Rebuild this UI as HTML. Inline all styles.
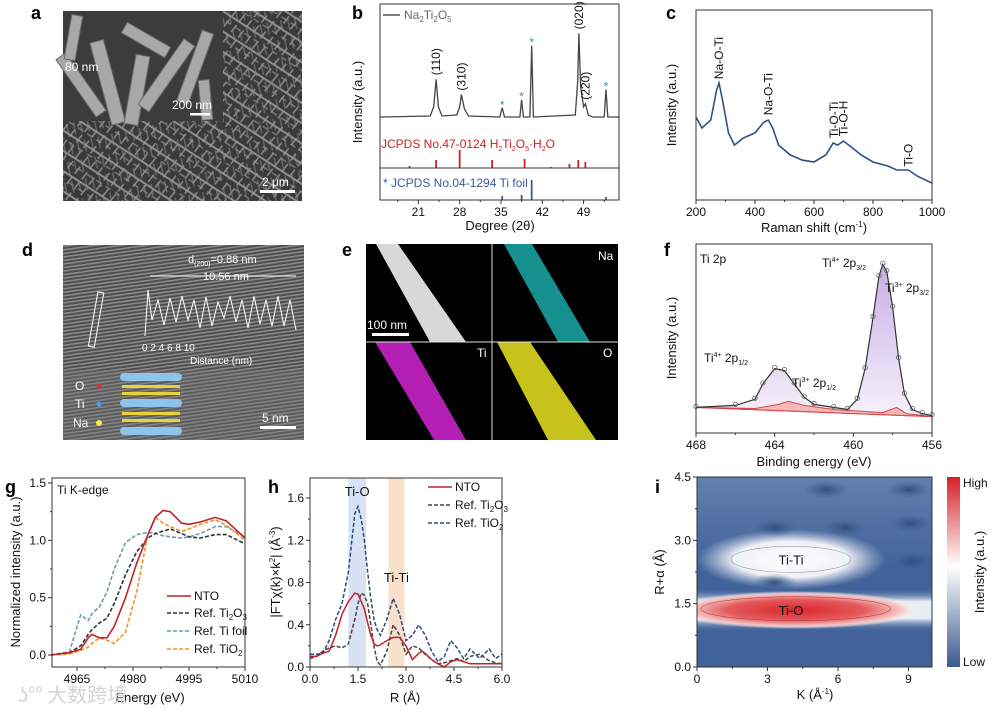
<!DOCTYPE html>
<html><head><meta charset="utf-8">
<style>
html,body{margin:0;padding:0;background:#fff;}
svg{display:block;font-family:"Liberation Sans",Arial,"Noto Sans CJK SC",sans-serif;}
.t{font-size:12px;}
.lab{font-size:13px;}
.pl{font-size:18px;font-weight:bold;fill:#000;}
</style></head>
<body>
<svg id="fig" xmlns="http://www.w3.org/2000/svg" width="1005" height="713" viewBox="0 0 1005 713">
<defs>
 <pattern id="sem1" width="11" height="17" patternUnits="userSpaceOnUse" patternTransform="rotate(33)">
  <rect width="11" height="17" fill="#3a3a3a"/>
  <rect x="0" y="6" width="11" height="2" fill="#8d8d8d"/>
  <rect x="3" y="13" width="6" height="1.5" fill="#777"/>
 </pattern>
 <pattern id="sem2" width="13" height="9" patternUnits="userSpaceOnUse" patternTransform="rotate(-52)">
  <rect x="0" y="3" width="9" height="1.6" fill="#9a9a9a"/>
 </pattern>
 <pattern id="sem3" width="19" height="7" patternUnits="userSpaceOnUse" patternTransform="rotate(78)">
  <rect x="2" y="2" width="12" height="1.4" fill="#888"/>
 </pattern>
 <pattern id="hrtem" width="3" height="3.5" patternUnits="userSpaceOnUse" patternTransform="rotate(-8)">
  <rect width="3" height="3.5" fill="#4c4c4c"/>
  <rect y="0" width="3" height="1.6" fill="#8a8a8a"/>
 </pattern>
 <linearGradient id="cbar" x1="0" y1="0" x2="0" y2="1">
  <stop offset="0" stop-color="#d42027"/><stop offset="0.47" stop-color="#ffffff"/><stop offset="1" stop-color="#3b5a8e"/>
 </linearGradient>
 <linearGradient id="purp" x1="0" y1="0" x2="0" y2="1">
  <stop offset="0" stop-color="#b89be0"/><stop offset="1" stop-color="#f3eefb"/>
 </linearGradient>
 <radialGradient id="redg"><stop offset="0" stop-color="#d8262c"/><stop offset="0.55" stop-color="#e45a5c"/><stop offset="0.85" stop-color="#f5c9c9"/><stop offset="1" stop-color="#ffffff" stop-opacity="0"/></radialGradient>
 <radialGradient id="whg"><stop offset="0" stop-color="#ffffff"/><stop offset="0.6" stop-color="#eef1f6"/><stop offset="1" stop-color="#c8d1e0" stop-opacity="0"/></radialGradient>
 <radialGradient id="dkg"><stop offset="0" stop-color="#2f4f82"/><stop offset="1" stop-color="#3f6093" stop-opacity="0"/></radialGradient>
 <linearGradient id="band" x1="0" y1="0" x2="0" y2="1">
  <stop offset="0" stop-color="#4a6a9c" stop-opacity="0"/><stop offset="0.3" stop-color="#e8edf5"/><stop offset="0.7" stop-color="#e8edf5"/><stop offset="1" stop-color="#4a6a9c" stop-opacity="0"/>
 </linearGradient>
 <linearGradient id="topfade" x1="0" y1="0" x2="0" y2="1">
  <stop offset="0" stop-color="#6f8cb8" stop-opacity="0.7"/><stop offset="1" stop-color="#6f8cb8" stop-opacity="0"/>
 </linearGradient>
 <clipPath id="clipI"><rect x="697" y="477" width="235" height="190"/></clipPath>
</defs>

<text class="pl" x="31" y="19">a</text>
<text class="pl" x="352" y="19">b</text>
<text class="pl" x="666" y="19">c</text>
<text class="pl" x="22" y="256">d</text>
<text class="pl" x="342" y="256">e</text>
<text class="pl" x="664" y="256">f</text>
<text class="pl" x="5" y="493">g</text>
<text class="pl" x="268" y="493">h</text>
<text class="pl" x="655" y="493">i</text>

<!-- panel a SEM -->
<g>
 <rect x="63" y="11" width="239" height="190" fill="url(#sem1)"/>
 <rect x="63" y="11" width="239" height="190" fill="url(#sem2)" opacity="0.8"/>
 <rect x="63" y="11" width="239" height="190" fill="url(#sem3)" opacity="0.6"/>
 <rect x="63" y="11" width="160" height="110" fill="#3c3c3c"/>
 <g fill="#a8a8a8" stroke="#6a6a6a" stroke-width="1">
  <rect x="100" y="40" width="14" height="85" transform="rotate(-15 107 80)"/>
  <rect x="130" y="55" width="14" height="70" transform="rotate(10 137 90)"/>
  <rect x="160" y="35" width="13" height="80" transform="rotate(35 166 75)"/>
  <rect x="75" y="50" width="12" height="70" transform="rotate(-35 81 85)"/>
  <rect x="190" y="30" width="12" height="75" transform="rotate(20 196 65)"/>
  <rect x="140" y="15" width="12" height="50" transform="rotate(-60 146 40)"/>
  <rect x="68" y="15" width="11" height="45" transform="rotate(10 73 37)"/>
  <rect x="200" y="80" width="11" height="40" transform="rotate(-5 205 100)"/>
 </g>
 <text x="65" y="71" font-size="12" fill="#fff">80 nm</text>
 <text x="172" y="109" font-size="12" fill="#fff">200 nm</text>
 <rect x="190" y="113" width="20" height="2.5" fill="#fff"/>
 <text x="262" y="186" font-size="12" fill="#fff">2 μm</text>
 <rect x="260" y="190" width="35" height="3" fill="#fff"/>
</g>

<!-- panel d HRTEM -->
<g>
 <rect x="63" y="245" width="241" height="195" fill="url(#hrtem)"/>
 <rect x="63" y="370" width="241" height="70" fill="#777" opacity="0.35"/>
 <text x="188" y="263" font-size="11" fill="#fff">d<tspan font-size="7" dy="3">(200)</tspan><tspan dy="-3">=0.88 nm</tspan></text>
 <text x="203" y="280" font-size="11" fill="#fff">10.56 nm</text>
 <line x1="150" y1="276" x2="296" y2="276" stroke="#fff" stroke-width="1"/>
 <polyline fill="none" stroke="#fff" stroke-width="1" points="145,336 148,290 152,320 158,300 164,325 170,298 176,322 182,296 188,320 194,300 200,328 206,297 212,326 218,302 224,318 230,296 236,322 242,300 248,328 254,296 260,324 266,300 272,326 278,296 284,326 290,300 296,330"/>
 <rect x="93" y="292" width="6" height="55" fill="none" stroke="#fff" transform="rotate(10 96 320)"/>
 <text x="142" y="351" font-size="10" fill="#fff">0     2     4     6     8    10</text>
 <text x="190" y="364" font-size="10" fill="#fff">Distance (nm)</text>
 <text x="75" y="390" font-size="12" fill="#fff">O</text><circle cx="99" cy="386" r="2.5" fill="#d33"/>
 <text x="75" y="408" font-size="12" fill="#fff">Ti</text><circle cx="99" cy="404" r="2.5" fill="#3af"/>
 <text x="73" y="427" font-size="12" fill="#fff">Na</text><circle cx="99" cy="423" r="3" fill="#ee4"/>
 <g fill="#8ec3ea"><rect x="120" y="373" width="62" height="8" rx="4"/><rect x="120" y="399" width="62" height="8" rx="4"/><rect x="120" y="427" width="62" height="8" rx="4"/></g>
 <g fill="#e8d33a"><rect x="122" y="385" width="58" height="3"/><rect x="122" y="392" width="58" height="3"/><rect x="122" y="412" width="58" height="3"/><rect x="122" y="419" width="58" height="3"/></g>
 <text x="262" y="422" font-size="12" fill="#fff">5 nm</text>
 <rect x="260" y="426" width="36" height="3" fill="#fff"/>
</g>

<!-- panel e EDS -->
<g>
 <rect x="366" y="244" width="252" height="196" fill="#000"/>
 <polygon points="376,244 398,244 466,342 430,342" fill="#d8d8d8"/>
 <polygon points="504,244 532,244 590,342 558,342" fill="#1aa8a8" opacity="0.85"/>
 <polygon points="375,342 410,342 466,440 434,440" fill="#b21fb2"/>
 <polygon points="497,342 530,342 596,440 548,440" fill="#c8c21c"/>
 <line x1="366" y1="342" x2="618" y2="342" stroke="#ddd" stroke-width="1"/>
 <line x1="492" y1="244" x2="492" y2="440" stroke="#ddd" stroke-width="1"/>
 <text x="367" y="329" font-size="12" fill="#fff">100 nm</text>
 <rect x="372" y="333" width="37" height="3" fill="#fff"/>
 <text x="598" y="260" font-size="12" fill="#fff">Na</text>
 <text x="477" y="357" font-size="12" fill="#fff">Ti</text>
 <text x="603" y="357" font-size="12" fill="#fff">O</text>
</g>

<g id="charts"></g>

<text x="18" y="702" font-size="20" fill="#d4d4d4" font-family="'Noto Sans CJK SC',sans-serif">ʖ°° 大数跨境</text>
</svg>

<script>
// ---------- data ----------
const xrdPoints = [[14.5,0],[23,1],[23.6,10],[24.0,37],[24.4,10],[25,1],[27.5,2],[28.0,10],[28.3,22],[28.8,8],[29.5,1],[34.8,0],[35.2,9],[35.6,0],[38.2,0],[38.5,17],[38.8,0],[39.9,0],[40.2,70],[40.5,0],[47.6,2],[48.0,35],[48.2,82],[48.5,30],[49.0,10],[49.3,13],[49.8,2],[50.5,0],[52.5,0],[52.8,27],[53.1,0],[55,0]];
const xrdStars = [35.2,38.5,40.2,52.8];
const xrdHkl = [["(110)",24.0,37],["(310)",28.3,22],["(020)",48.2,82],["(220)",49.3,13]];
const refH2TiPos = [19.5,24,28,33.5,39,43.5,46.6,48.1,49.3];
const refH2TiH = [2,8,18,8,9,1,4,8,6];
const refTiPos = [35.2,38.5,40.2,52.8];
const refTiH = [4,5,20,3];

const ramanShift = [200,220,250,270,278,290,310,330,360,400,430,445,460,480,520,560,600,640,665,680,700,730,760,800,850,880,920,950,1000];
const ramanInt = [43.7,37.9,42.1,57.9,61.6,52.6,35.3,28.9,32.6,35.3,41,42.1,37.9,28.9,23.7,21,20,23.7,30,28.9,31,27.4,23.7,20,17.9,15.8,15.8,12.6,8.9];
const ramanLabels = [["Na-O-Ti",278,62],["Na-O-Ti",445,43],["Ti-O-Ti",668,31],["Ti-O-H",700,32],["Ti-O",920,16]];

const xpsBE = [468,466,465,464.6,464.0,463.5,463,462.5,462,461,460.3,459.8,459.4,459.0,458.7,458.5,458.3,458.0,457.7,457.4,457.0,456.5,456];
const xpsInt = [25,27,33,48,63,61,48,35,28,25,23,33,63,113,153,165,158,123,73,38,23,19,17];
const xpsBg = [[468,25],[456,16]];
const xpsTi3 = [[468,25],[465,24],[463.8,28],[463.3,31],[462.5,27],[461,23],[458.5,20],[457.8,25],[457.3,19],[456,16]];

const gE = [4958,4963,4966,4968,4969,4971,4973,4975,4978,4981,4984,4986,4988,4990,4993,4995,4998,5002,5005,5010];
const gNTO = [0,0.02,0.05,0.15,0.18,0.15,0.15,0.25,0.5,0.8,1.05,1.2,1.26,1.25,1.15,1.14,1.16,1.2,1.17,1.02];
const gTi2O3 = [0,0.02,0.08,0.18,0.22,0.28,0.32,0.45,0.7,0.9,1.02,1.06,1.08,1.1,1.06,1.03,1.02,1.05,1.05,0.97];
const gTiFoil = [0,0.03,0.35,0.3,0.36,0.42,0.55,0.75,0.98,1.05,1.07,1.06,1.04,1.03,1.02,1.03,1.06,1.12,1.12,1.03];
const gTiO2 = [0,0.01,0.04,0.07,0.1,0.15,0.13,0.1,0.2,0.55,1.05,1.2,1.15,1.12,1.08,1.1,1.14,1.18,1.13,1.0];

const hR = [0,0.2,0.4,0.6,0.8,1.0,1.2,1.4,1.5,1.6,1.7,1.8,1.9,2.0,2.1,2.2,2.4,2.6,2.8,3.0,3.2,3.4,3.5,3.6,3.8,4.0,4.2,4.4,4.6,4.8,5.0,5.3,5.6,5.8,6.0];
const hNTO = [0.1,0.1,0.13,0.15,0.3,0.5,0.62,0.7,0.69,0.62,0.55,0.42,0.3,0.22,0.2,0.21,0.25,0.28,0.28,0.2,0.07,0.13,0.15,0.13,0.07,0.03,0.0,0.05,0.07,0.05,0.03,0.03,0.03,0.03,0.03];
const hTi2O3 = [0.08,0.1,0.15,0.18,0.2,0.18,0.22,0.45,0.6,0.7,0.68,0.6,0.4,0.2,0.05,0.02,0.15,0.4,0.3,0.12,0.2,0.18,0.15,0.12,0.07,0.03,0.04,0.06,0.08,0.05,0.1,0.12,0.06,0.04,0.03];
const hTiO2 = [0.12,0.12,0.13,0.25,0.45,0.6,0.9,1.45,1.52,1.4,1.2,0.9,0.65,0.45,0.35,0.3,0.45,0.65,0.5,0.25,0.3,0.4,0.35,0.3,0.15,0.05,0.1,0.25,0.18,0.08,0.17,0.08,0.17,0.08,0.12];
const hBands = [["Ti-O",1.2,1.75,"#d9e2f5"],["Ti-Ti",2.45,2.95,"#f8e0cc"]];

const iBlobsK = [3.3,6.3,9.1,3.3,9.2,5.5,9.0];
const iBlobsR = [3.3,3.3,3.4,2.0,2.5,4.2,4.2];

// ---------- helpers ----------
const NS = "http://www.w3.org/2000/svg";
const root = document.getElementById("charts");
function mk(tag, attrs, parent){const e=document.createElementNS(NS,tag);for(const k in attrs)e.setAttribute(k,attrs[k]);(parent||root).appendChild(e);return e;}
function lin(d0,d1,r0,r1){return v=>r0+(v-d0)*(r1-r0)/(d1-d0);}
function pathD(xs,ys,X,Y){return xs.map((v,i)=>(i?"L":"M")+X(v).toFixed(1)+","+Y(ys[i]).toFixed(1)).join("");}
function txt(x,y,s,cls,extra,parent){const a=Object.assign({x:x,y:y,class:cls||"t",fill:"#111"},extra||{});const t=mk("text",a,parent);t.textContent=s;return t;}
function frame(x,y,w,h,name){const r=mk("rect",{x:x,y:y,width:w,height:h,fill:"none",stroke:"#333","stroke-width":1});


return r;}
function xTicks(vals,X,yb,fmt,minor){vals.forEach(v=>{mk("line",{x1:X(v),x2:X(v),y1:yb,y2:yb+4,stroke:"#333"});const t=txt(X(v),yb+16,fmt(v),"t",{"text-anchor":"middle"});

});
(minor||[]).forEach(v=>mk("line",{x1:X(v),x2:X(v),y1:yb,y2:yb+2,stroke:"#333"}));}
function yTicks(vals,Y,xl,fmt,minor){vals.forEach(v=>{mk("line",{x1:xl-4,x2:xl,y1:Y(v),y2:Y(v),stroke:"#333"});const t=txt(xl-6,Y(v)+4,fmt(v),"t",{"text-anchor":"end"});

});
(minor||[]).forEach(v=>mk("line",{x1:xl-2,x2:xl,y1:Y(v),y2:Y(v),stroke:"#333"}));}
function vlabel(x,y,s,name){const t=txt(x,y,s,"lab",{"text-anchor":"middle",transform:"rotate(-90 "+x+" "+y+")"});


return t;}

// ---------- b: XRD ----------
{
const X=lin(14.5,55,380,619), Y=lin(0,100,117,15);
const p=mk("path",{d:pathD(xrdPoints.map(a=>a[0]),xrdPoints.map(a=>a[1]),X,Y),fill:"none",stroke:"#444","stroke-width":1.3});


xrdStars.forEach(s=>{const v=xrdPoints.find(a=>Math.abs(a[0]-s)<0.01)[1];const t=txt(X(s),Y(v)+1,"*","t",{"text-anchor":"middle",fill:"#2a8fd0","font-size":"11"});

});
xrdHkl.forEach(h=>{const x=X(h[1])+4,y=Y(h[2])-4;const t=txt(x,y,h[0],"t",{transform:"rotate(-90 "+x+" "+y+")","font-size":"11"});

});
mk("line",{x1:383,x2:400,y1:15,y2:15,stroke:"#555","stroke-width":1.5});
const lg=txt(404,19,"","t",{fill:"#666"});lg.innerHTML='Na<tspan font-size="8" dy="3">2</tspan><tspan dy="-3">Ti</tspan><tspan font-size="8" dy="3">2</tspan><tspan dy="-3">O</tspan><tspan font-size="8" dy="3">5</tspan>';


const rl=txt(381,148,"","t",{fill:"#c8202a","font-size":"11"});rl.innerHTML='JCPDS No.47-0124 H<tspan font-size="7" dy="3">2</tspan><tspan dy="-3">Ti</tspan><tspan font-size="7" dy="3">2</tspan><tspan dy="-3">O</tspan><tspan font-size="7" dy="3">5</tspan><tspan dy="-3">·H</tspan><tspan font-size="7" dy="3">2</tspan><tspan dy="-3">O</tspan>';


refH2TiPos.forEach((v,i)=>{const l=mk("line",{x1:X(v),x2:X(v),y1:168,y2:168-refH2TiH[i],stroke:"#c8202a","stroke-width":1.8});

});
mk("line",{x1:380,x2:619,y1:168,y2:168,stroke:"#333"});
const bl=txt(383,187,"* JCPDS No.04-1294 Ti foil","t",{fill:"#3a5a9a","font-size":"11"});


refTiPos.forEach((v,i)=>{const l=mk("line",{x1:X(v),x2:X(v),y1:200,y2:200-refTiH[i],stroke:"#3a5a9a","stroke-width":1.8});

});
frame(380,4,239,196,"xrd-frame");
xTicks([21,28,35,42,49],X,200,v=>v,[17.5,24.5,31.5,38.5,45.5,52.5]);
vlabel(362,102,"Intensity (a.u.)","xrd-y-axis-title");
const xl=txt(500,230,"Degree (2θ)","lab",{"text-anchor":"middle"});


}

// ---------- c: Raman ----------
{
const X=lin(200,1000,696,932), Y=lin(0,100,200,10);
const p=mk("path",{d:pathD(ramanShift,ramanInt,X,Y),fill:"none",stroke:"#2f5285","stroke-width":1.6});


ramanLabels.forEach(l=>{const x=X(l[1])+4,y=Y(l[2])-3;const t=txt(x,y,l[0],"t",{transform:"rotate(-90 "+x+" "+y+")","font-size":"11"});

});
frame(696,10,236,190,"raman-frame");
xTicks([200,400,600,800,1000],X,200,v=>v,[300,500,700,900]);
vlabel(676,105,"Intensity (a.u.)","raman-y-axis-title");
const xl=txt(814,232,"","lab",{"text-anchor":"middle"});xl.innerHTML='Raman shift (cm<tspan font-size="8" dy="-5">-1</tspan><tspan dy="5">)</tspan>';


}

// ---------- f: XPS ----------
{
const X=lin(468,456,696,932), Y=lin(0,180,433,244+5);
const fillD=pathD(xpsBE,xpsInt,X,Y)+"L"+X(456)+","+Y(16)+"L"+X(468)+","+Y(25)+"Z";
const fa=mk("path",{d:fillD,fill:"url(#purp)",opacity:0.8});


const r=mk("path",{d:pathD(xpsTi3.map(a=>a[0]),xpsTi3.map(a=>a[1]),X,Y)+"L"+X(456)+","+Y(16)+"L"+X(468)+","+Y(25)+"Z",fill:"#f4b8b8",stroke:"#d6454a","stroke-width":1});


const bg=mk("line",{x1:X(xpsBg[0][0]),y1:Y(xpsBg[0][1]),x2:X(xpsBg[1][0]),y2:Y(xpsBg[1][1]),stroke:"#d6454a","stroke-width":1});


const p=mk("path",{d:pathD(xpsBE,xpsInt,X,Y),fill:"none",stroke:"#333","stroke-width":1.2});


xpsBE.forEach((b,i)=>{const c=mk("circle",{cx:X(b),cy:Y(xpsInt[i])-1,r:2.2,fill:"none",stroke:"#666","stroke-width":0.8});

});
frame(696,244,236,189,"xps-frame");
xTicks([468,464,460,456],X,433,v=>v,[466,462,458]);
vlabel(676,338,"Intensity (a.u.)","xps-y-axis-title");
const xl=txt(814,466,"Binding energy (eV)","lab",{"text-anchor":"middle"});


const tl=txt(700,263,"Ti 2p","t");


[["Ti","4+","2p","3/2",822,267],["Ti","3+","2p","3/2",885,292],["Ti","4+","2p","1/2",704,362],["Ti","3+","2p","1/2",792,387]].forEach(a=>{const t=txt(a[4],a[5],"","t",{"font-size":"11"});t.innerHTML=a[0]+'<tspan font-size="7" dy="-5">'+a[1]+'</tspan><tspan dy="5"> '+a[2]+'</tspan><tspan font-size="7" dy="3">'+a[3]+'</tspan>';

});
}

// ---------- g: XANES ----------
{
const X=lin(4965,5010,77,245), Y=lin(0,1.5,655,483);
const series=[[gTiFoil,"#6a9ab0","4,2","xanes-ti-foil-line"],[gTi2O3,"#333","4,2","xanes-ti2o3-line"],[gTiO2,"#f39220","4,2","xanes-tio2-line"],[gNTO,"#c0222a","","xanes-nto-line"]];
series.forEach(s=>{const p=mk("path",{d:pathD(gE,s[0],X,Y),fill:"none",stroke:s[1],"stroke-width":1.6,"stroke-dasharray":s[2]});

});
frame(52,478,193,189,"xanes-frame");
xTicks([4965,4980,4995,5010],X,667,v=>v,[4972.5,4987.5,5002.5]);
yTicks([0,0.5,1.0,1.5],Y,52,v=>v.toFixed(1),[0.25,0.75,1.25]);
vlabel(20,572,"Normalized intensity (a.u.)","xanes-y-axis-title");
const xl=txt(150,702,"Energy (eV)","lab",{"text-anchor":"middle"});


const tl=txt(57,494,"Ti K-edge","t");


const leg=[["NTO","#c0222a","",600],["Ref. Ti<tspan font-size='8' dy='3'>2</tspan><tspan dy='-3'>O</tspan><tspan font-size='8' dy='3'>3</tspan>","#333","4,2",617],["Ref. Ti foil","#6a9ab0","4,2",635],["Ref. TiO<tspan font-size='8' dy='3'>2</tspan>","#f39220","4,2",653]];
leg.forEach(l=>{const g=mk("g",{});


mk("line",{x1:167,x2:191,y1:l[3]-4,y2:l[3]-4,stroke:l[1],"stroke-width":1.6,"stroke-dasharray":l[2]},g);const t=txt(194,l[3],"","t",{},g);t.innerHTML=l[0];});
}

// ---------- h: FT-EXAFS ----------
{
const X=lin(0,6,310,502), Y=lin(0,1.6,667,498);
hBands.forEach(b=>{const r=mk("rect",{x:X(b[1]),y:478,width:X(b[2])-X(b[1]),height:189,fill:b[3]});


const t=txt((X(b[1])+X(b[2]))/2,b[0]==="Ti-O"?496:582,b[0],"lab",{"text-anchor":"middle"});

});
const series=[[hTiO2,"#2c4a7a","4,2","exafs-tio2-line"],[hTi2O3,"#444","4,2","exafs-ti2o3-line"],[hNTO,"#c0222a","","exafs-nto-line"]];
series.forEach(s=>{const p=mk("path",{d:pathD(hR,s[0],X,Y),fill:"none",stroke:s[1],"stroke-width":1.5,"stroke-dasharray":s[2]});

});
frame(310,478,192,189,"exafs-frame");
xTicks([0,1.5,3.0,4.5,6.0],X,667,v=>v.toFixed(1),[0.75,2.25,3.75,5.25]);
yTicks([0,0.4,0.8,1.2,1.6],Y,310,v=>v.toFixed(1),[0.2,0.6,1.0,1.4]);
const yl=vlabel(280,572,"","exafs-y-axis-title");yl.innerHTML='|FTχ(k)×k<tspan font-size="8" dy="-5">2</tspan><tspan dy="5">| (Å</tspan><tspan font-size="8" dy="-5">-3</tspan><tspan dy="5">)</tspan>';
const xl=txt(405,702,"R (Å)","lab",{"text-anchor":"middle"});


const leg=[["NTO","#c0222a","",491],["Ref. Ti<tspan font-size='8' dy='3'>2</tspan><tspan dy='-3'>O</tspan><tspan font-size='8' dy='3'>3</tspan>","#444","4,2",509],["Ref. TiO<tspan font-size='8' dy='3'>2</tspan>","#2c4a7a","4,2",527]];
leg.forEach(l=>{const g=mk("g",{});


mk("line",{x1:428,x2:452,y1:l[3]-4,y2:l[3]-4,stroke:l[1],"stroke-width":1.6,"stroke-dasharray":l[2]},g);const t=txt(455,l[3],"","t",{},g);t.innerHTML=l[0];});
}

// ---------- i: wavelet transform ----------
{
const X=lin(0,10,697,932), Y=lin(0,4.5,667,477);
const g=mk("g",{"clip-path":"url(#clipI)"});


mk("rect",{x:697,y:477,width:235,height:190,fill:"#42639a"},g);
mk("rect",{x:697,y:477,width:235,height:90,fill:"url(#topfade)"},g);
mk("ellipse",{cx:X(4),cy:Y(2.55),rx:95,ry:30,fill:"url(#whg)"},g);
iBlobsK.forEach((k,i)=>{const e=mk("ellipse",{cx:X(k),cy:Y(iBlobsR[i]),rx:22,ry:9,fill:"url(#dkg)"},g);

});
mk("rect",{x:697,y:Y(1.85),width:235,height:Y(0.85)-Y(1.85),fill:"url(#band)"},g);
mk("ellipse",{cx:X(4.2),cy:Y(1.35),rx:125,ry:19,fill:"url(#redg)"},g);
mk("ellipse",{cx:X(4),cy:Y(2.55),rx:60,ry:13,fill:"none",stroke:"#999","stroke-width":0.6},g);
mk("ellipse",{cx:X(4.2),cy:Y(1.38),rx:95,ry:12,fill:"none",stroke:"#a33","stroke-width":0.5},g);
const t1=txt(X(4),Y(2.55)+5,"Ti-Ti","lab",{"text-anchor":"middle"});


const t2=txt(X(4),Y(1.35)+5,"Ti-O","lab",{"text-anchor":"middle"});


frame(697,477,235,190,"wavelet-frame");
xTicks([0,3,6,9],X,667,v=>v,[1.5,4.5,7.5]);
yTicks([0,1.5,3.0,4.5],Y,697,v=>v.toFixed(1),[0.75,2.25,3.75]);
vlabel(664,572,"R+α (Å)","wavelet-y-axis-title");
const xl=txt(815,699,"","lab",{"text-anchor":"middle"});xl.innerHTML='K (Å<tspan font-size="8" dy="-5">-1</tspan><tspan dy="5">)</tspan>';


const cb=mk("rect",{x:947,y:477,width:13,height:190,fill:"url(#cbar)"});


const h=txt(963,487,"High","t");


const lo=txt(963,666,"Low","t");


vlabel(984,572,"Intensity (a.u.)","colorbar-title");
}
</script>
</body></html>
